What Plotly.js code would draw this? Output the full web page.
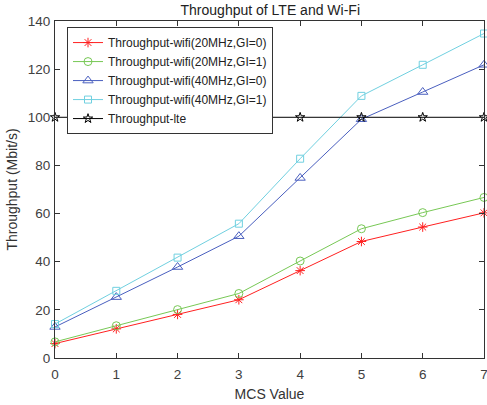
<!DOCTYPE html>
<html>
<head>
<meta charset="utf-8">
<script src="https://cdn.plot.ly/plotly-3.0.1.min.js"></script>
<style>html,body{margin:0;padding:0;background:#fff;}#chart{width:487px;height:405px;}</style>
</head>
<body>
<div id="chart"></div>
<script>
var mcs = [0, 1, 2, 3, 4, 5, 6, 7];
var wifi20gi0 = [6.0, 12.1, 18.1, 24.2, 36.3, 48.4, 54.4, 60.3];
var wifi20gi1 = [6.7, 13.4, 20.1, 26.8, 40.3, 53.7, 60.4, 66.7];
var wifi40gi0 = [12.9, 25.3, 37.8, 50.6, 74.8, 99.2, 110.5, 121.8];
var wifi40gi1 = [14.1, 27.9, 41.7, 55.8, 82.8, 108.9, 121.8, 134.8];
var lte = [100, 100, 100, 100, 100, 100, 100, 100];
var names = ['Throughput-wifi(20MHz,GI=0)', 'Throughput-wifi(20MHz,GI=1)', 'Throughput-wifi(40MHz,GI=0)', 'Throughput-wifi(40MHz,GI=1)', 'Throughput-lte'];

function tr(y, name, color, sym, size) {
  return {x: mcs, y: y, name: name, type: 'scatter', mode: 'lines+markers', cliponaxis: false,
    line: {color: color, width: 1},
    marker: {symbol: sym, size: size, color: color, line: {color: color, width: 1}}};
}
var data = [
  tr(wifi20gi0, names[0], '#ff2020', 'asterisk-open', 8),
  tr(wifi20gi1, names[1], '#77c855', 'circle-open', 8),
  tr(wifi40gi0, names[2], '#4a5fbf', 'triangle-up-open', 9),
  tr(wifi40gi1, names[3], '#70d0e0', 'square-open', 7),
  tr(lte, names[4], '#000000', 'star-open', 7)
];
var ff = 'Liberation Sans, Arial, sans-serif';
var axFont = {family: ff, size: 13.5, color: '#404040'};
var layout = {
  width: 487, height: 405,
  margin: {l: 55, r: 3, t: 21, b: 47},
  paper_bgcolor: '#fff', plot_bgcolor: '#fff',
  title: {text: 'Throughput of LTE and Wi-Fi', font: {family: ff, size: 14, color: '#222'}, x: 0.555, xanchor: 'center', y: 0.976, yanchor: 'middle'},
  showlegend: true,
  legend: {x: 0.028, y: 0.982, xanchor: 'left', yanchor: 'top', bgcolor: '#fff', bordercolor: '#333', borderwidth: 1,
    font: {family: ff, size: 12, color: '#222'}, tracegroupgap: 0, itemwidth: 30},
  xaxis: {range: [0, 7], tickvals: [0,1,2,3,4,5,6,7], ticks: 'inside', ticklen: 5, tickcolor: '#333', showline: true, linecolor: '#333', linewidth: 1, mirror: 'ticks', showgrid: false, zeroline: false,
    ticklabelstandoff: 4, ticklabeloverflow: 'allow', tickfont: axFont, title: {text: 'MCS Value', font: {family: ff, size: 14, color: '#333'}, standoff: 7}},
  yaxis: {range: [0, 140], tickvals: [0,20,40,60,80,100,120,140], ticks: 'inside', ticklen: 5, tickcolor: '#333', showline: true, linecolor: '#333', linewidth: 1, mirror: 'ticks', showgrid: false, zeroline: false,
    ticklabelstandoff: 1, ticklabeloverflow: 'allow', tickfont: axFont, title: {text: 'Throughput (Mbit/s)', font: {family: ff, size: 14, color: '#333'}, standoff: 6}}
};
Plotly.newPlot('chart', data, layout, {displayModeBar: false, staticPlot: true});
</script>
</body>
</html>
